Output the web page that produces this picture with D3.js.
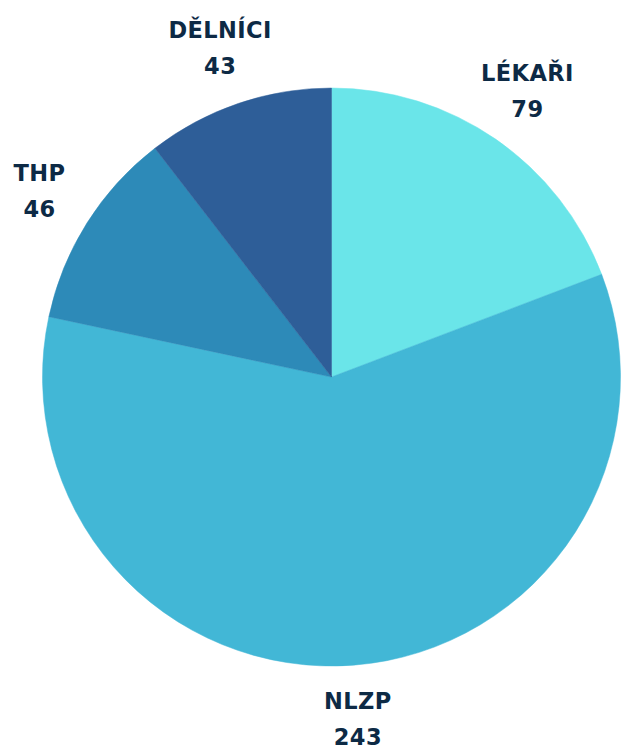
<!DOCTYPE html>
<html><head><meta charset="utf-8">
<script src="https://cdn.jsdelivr.net/npm/d3@7"></script>
<style>html,body{margin:0;padding:0;background:#fff}</style>
</head><body>
<svg id="c" width="622" height="747"></svg>
<script>
const categories = ["LÉKAŘI", "NLZP", "THP", "DĚLNÍCI"];
const values = [79, 243, 46, 43];
const colors = ["#6ae5e9", "#42b7d6", "#2d8ab8", "#2e5e98"];

const svg = d3.select("#c");
const cx = 331.5, cy = 377, r = 289, lr = 345;
const data = categories.map((c, i) => ({cat: c, val: values[i], col: colors[i]}));
const pie = d3.pie().value(d => d.val).sort(null);
const arcs = pie(data);
const arc = d3.arc().innerRadius(0).outerRadius(r);
const g = svg.append("g").attr("transform", `translate(${cx},${cy})`);
g.selectAll("path").data(arcs).join("path")
  .attr("d", arc).attr("fill", d => d.data.col)
  .attr("stroke", d => d.data.col).attr("stroke-width", 0.5);
const labArc = d3.arc().innerRadius(lr).outerRadius(lr);
const lab = g.selectAll("g.lab").data(arcs).join("g").attr("class", "lab")
  .attr("transform", d => { const [x, y] = labArc.centroid(d); return `translate(${x},${y})`; });
lab.append("text").attr("y", -12).text(d => d.data.cat);
lab.append("text").attr("y", 24).text(d => d.data.val);
lab.selectAll("text").attr("text-anchor", "middle")
  .attr("font-family", "'DejaVu Sans', sans-serif").attr("font-weight", 700)
  .attr("font-size", 22.5).attr("letter-spacing", 0.4).attr("fill", "#0d2a45");
</script>
</body></html>
